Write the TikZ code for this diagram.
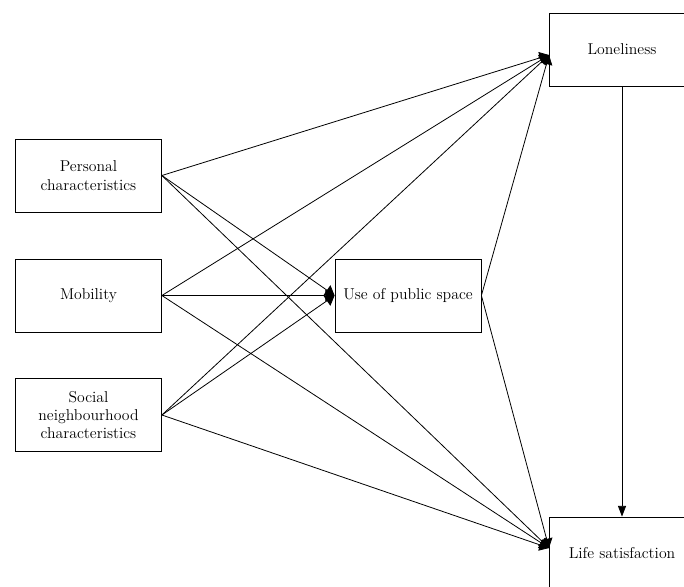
\documentclass[tikz,border=0pt]{standalone}
\usetikzlibrary{arrows.meta}
\begin{document}
\begin{tikzpicture}[
	x=0.75pt,
	y=-0.75pt,
	font=\fontsize{11.8}{13.8}\selectfont,
	line width=0.6pt,
	box/.style={draw, minimum width=109.5pt, minimum height=54.75pt, align=center, inner sep=2pt},
	link/.style={-{Triangle[width=9pt,length=7pt]}},
	down/.style={-{Triangle[width=6pt,length=8pt]}}
	]
	\useasboundingbox (0,0) rectangle (684,586);
	% --- left column ---
	\node[box] (pers) at (88.5,175.5) {Personal\\characteristics};
	\node[box] (mob) at (88.5,295.5) {Mobility};
	\node[box] (soc) at (88.5,415) {Social\\neighbourhood\\characteristics};
	% --- middle and right ---
	\node[box] (use) at (408,295.5) {Use of public space};
	\node[box] (lon) at (622,49.5) {Loneliness};
	\node[box] (life) at (622,553.5) {Life satisfaction};
	\coordinate (lonin) at (549,55);
	\coordinate (lifein) at (549,548);

	% paths to loneliness
	\foreach \src in {pers, mob, soc}
		\draw[link] (\src.east) -- (lonin);
	\draw[link] (use.east) -- (lonin);

	% paths to use of public space
	\foreach \src in {pers, mob, soc}
		\draw[link] (\src.east) -- (use.west);

	% paths to life satisfaction
	\foreach \src in {pers, mob, soc}
		\draw[link] (\src.east) -- (lifein);
	\draw[link] (use.east) -- (lifein);

	\draw[down] (lon.south) -- (life.north);
\end{tikzpicture}
\end{document}
